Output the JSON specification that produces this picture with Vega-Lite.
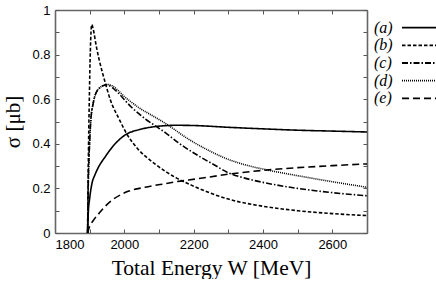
{
  "$schema": "https://vega.github.io/schema/vega-lite/v6.json",
  "padding": {"left": 2, "top": 4, "right": 0, "bottom": 0},
  "background": "white",
  "bounds": "flush",
  "spacing": 7,
  "config": {
    "view": {"stroke": null},
    "axis": {
      "grid": false,
      "domainColor": "#666",
      "domainWidth": 1.6,
      "tickColor": "#555",
      "tickWidth": 1,
      "tickSize": -4,
      "labelFont": "Liberation Sans",
      "labelFontSize": 13,
      "labelColor": "#000",
      "titleFont": "Liberation Serif",
      "titleFontWeight": "normal",
      "titleColor": "#000"
    }
  },
  "datasets": {
    "curves": [
      {"curve": "(a)", "W": 1894, "s": 0},
      {"curve": "(a)", "W": 1896, "s": 0.09},
      {"curve": "(a)", "W": 1900, "s": 0.155},
      {"curve": "(a)", "W": 1907, "s": 0.225},
      {"curve": "(a)", "W": 1915, "s": 0.26},
      {"curve": "(a)", "W": 1927, "s": 0.3},
      {"curve": "(a)", "W": 1944, "s": 0.34},
      {"curve": "(a)", "W": 1965, "s": 0.385},
      {"curve": "(a)", "W": 1985, "s": 0.418},
      {"curve": "(a)", "W": 2007, "s": 0.444},
      {"curve": "(a)", "W": 2042, "s": 0.463},
      {"curve": "(a)", "W": 2088, "s": 0.477},
      {"curve": "(a)", "W": 2150, "s": 0.483},
      {"curve": "(a)", "W": 2200, "s": 0.482},
      {"curve": "(a)", "W": 2300, "s": 0.474},
      {"curve": "(a)", "W": 2400, "s": 0.467},
      {"curve": "(a)", "W": 2500, "s": 0.461},
      {"curve": "(a)", "W": 2600, "s": 0.457},
      {"curve": "(a)", "W": 2700, "s": 0.453},

      {"curve": "(b)", "W": 1894, "s": 0},
      {"curve": "(b)", "W": 1896, "s": 0.3},
      {"curve": "(b)", "W": 1899, "s": 0.6},
      {"curve": "(b)", "W": 1902, "s": 0.82},
      {"curve": "(b)", "W": 1906, "s": 0.935},
      {"curve": "(b)", "W": 1910, "s": 0.915},
      {"curve": "(b)", "W": 1920, "s": 0.83},
      {"curve": "(b)", "W": 1927, "s": 0.78},
      {"curve": "(b)", "W": 1946, "s": 0.668},
      {"curve": "(b)", "W": 1959, "s": 0.6},
      {"curve": "(b)", "W": 1985, "s": 0.511},
      {"curve": "(b)", "W": 2007, "s": 0.444},
      {"curve": "(b)", "W": 2039, "s": 0.377},
      {"curve": "(b)", "W": 2088, "s": 0.31},
      {"curve": "(b)", "W": 2150, "s": 0.247},
      {"curve": "(b)", "W": 2200, "s": 0.21},
      {"curve": "(b)", "W": 2250, "s": 0.178},
      {"curve": "(b)", "W": 2300, "s": 0.152},
      {"curve": "(b)", "W": 2400, "s": 0.12},
      {"curve": "(b)", "W": 2500, "s": 0.1},
      {"curve": "(b)", "W": 2600, "s": 0.087},
      {"curve": "(b)", "W": 2700, "s": 0.078},

      {"curve": "(c)", "W": 1894, "s": 0},
      {"curve": "(c)", "W": 1896, "s": 0.22},
      {"curve": "(c)", "W": 1900, "s": 0.41},
      {"curve": "(c)", "W": 1903, "s": 0.5},
      {"curve": "(c)", "W": 1910, "s": 0.58},
      {"curve": "(c)", "W": 1917, "s": 0.623},
      {"curve": "(c)", "W": 1930, "s": 0.652},
      {"curve": "(c)", "W": 1950, "s": 0.665},
      {"curve": "(c)", "W": 1965, "s": 0.652},
      {"curve": "(c)", "W": 1980, "s": 0.632},
      {"curve": "(c)", "W": 2000, "s": 0.598},
      {"curve": "(c)", "W": 2020, "s": 0.565},
      {"curve": "(c)", "W": 2042, "s": 0.535},
      {"curve": "(c)", "W": 2060, "s": 0.512},
      {"curve": "(c)", "W": 2090, "s": 0.48},
      {"curve": "(c)", "W": 2120, "s": 0.448},
      {"curve": "(c)", "W": 2160, "s": 0.4},
      {"curve": "(c)", "W": 2215, "s": 0.345},
      {"curve": "(c)", "W": 2260, "s": 0.305},
      {"curve": "(c)", "W": 2300, "s": 0.27},
      {"curve": "(c)", "W": 2350, "s": 0.245},
      {"curve": "(c)", "W": 2400, "s": 0.227},
      {"curve": "(c)", "W": 2500, "s": 0.2},
      {"curve": "(c)", "W": 2600, "s": 0.181},
      {"curve": "(c)", "W": 2700, "s": 0.167},

      {"curve": "(d)", "W": 1894, "s": 0},
      {"curve": "(d)", "W": 1896, "s": 0.22},
      {"curve": "(d)", "W": 1900, "s": 0.41},
      {"curve": "(d)", "W": 1903, "s": 0.5},
      {"curve": "(d)", "W": 1910, "s": 0.58},
      {"curve": "(d)", "W": 1917, "s": 0.623},
      {"curve": "(d)", "W": 1930, "s": 0.652},
      {"curve": "(d)", "W": 1950, "s": 0.666},
      {"curve": "(d)", "W": 1965, "s": 0.66},
      {"curve": "(d)", "W": 1980, "s": 0.642},
      {"curve": "(d)", "W": 2000, "s": 0.612},
      {"curve": "(d)", "W": 2020, "s": 0.587},
      {"curve": "(d)", "W": 2042, "s": 0.562},
      {"curve": "(d)", "W": 2088, "s": 0.52},
      {"curve": "(d)", "W": 2120, "s": 0.49},
      {"curve": "(d)", "W": 2186, "s": 0.42},
      {"curve": "(d)", "W": 2250, "s": 0.365},
      {"curve": "(d)", "W": 2292, "s": 0.335},
      {"curve": "(d)", "W": 2350, "s": 0.305},
      {"curve": "(d)", "W": 2408, "s": 0.284},
      {"curve": "(d)", "W": 2500, "s": 0.257},
      {"curve": "(d)", "W": 2600, "s": 0.23},
      {"curve": "(d)", "W": 2700, "s": 0.205},

      {"curve": "(e)", "W": 1894, "s": 0},
      {"curve": "(e)", "W": 1900, "s": 0.03},
      {"curve": "(e)", "W": 1910, "s": 0.055},
      {"curve": "(e)", "W": 1927, "s": 0.088},
      {"curve": "(e)", "W": 1945, "s": 0.12},
      {"curve": "(e)", "W": 1965, "s": 0.148},
      {"curve": "(e)", "W": 1990, "s": 0.172},
      {"curve": "(e)", "W": 2013, "s": 0.188},
      {"curve": "(e)", "W": 2060, "s": 0.205},
      {"curve": "(e)", "W": 2109, "s": 0.219},
      {"curve": "(e)", "W": 2150, "s": 0.23},
      {"curve": "(e)", "W": 2206, "s": 0.242},
      {"curve": "(e)", "W": 2302, "s": 0.264},
      {"curve": "(e)", "W": 2400, "s": 0.281},
      {"curve": "(e)", "W": 2500, "s": 0.293},
      {"curve": "(e)", "W": 2600, "s": 0.302},
      {"curve": "(e)", "W": 2700, "s": 0.31}
    ],
    "keys": [
      {"curve": "(a)"},
      {"curve": "(b)"},
      {"curve": "(c)"},
      {"curve": "(d)"},
      {"curve": "(e)"}
    ]
  },
  "hconcat": [
    {
      "width": 312,
      "height": 223,
      "data": {"name": "curves"},
      "layer": [
        {
          "mark": {"type": "line", "interpolate": "monotone", "color": "#000", "strokeWidth": 1.6, "clip": true},
          "encoding": {
            "x": {
              "field": "W", "type": "quantitative",
              "scale": {"domain": [1800, 2700], "nice": false, "zero": false},
              "axis": {
                "orient": "bottom",
                "values": [1800, 1900, 2000, 2100, 2200, 2300, 2400, 2500, 2600, 2700],
                "labelExpr": "datum.value % 200 == 0 && datum.value < 2700 ? datum.label : ''",
                "format": "d",
                "labelPadding": 9,
                "title": "Total Energy W [MeV]",
                "titleFontSize": 21.5,
                "titlePadding": 6
              }
            },
            "y": {
              "field": "s", "type": "quantitative",
              "scale": {"domain": [0, 1], "nice": false},
              "axis": {
                "orient": "left",
                "values": [0, 0.1, 0.2, 0.3, 0.4, 0.5, 0.6, 0.7, 0.8, 0.9, 1],
                "format": "~g",
                "labelExpr": "round(datum.value * 10) % 2 == 0 ? datum.label : ''",
                "labelPadding": 9,
                "title": "σ [μb]",
                "titleFontSize": 21,
                "titlePadding": 8
              }
            },
            "strokeDash": {
              "field": "curve", "type": "nominal",
              "scale": {
                "domain": ["(a)", "(b)", "(c)", "(d)", "(e)"],
                "range": [[1, 0], [3.5, 2], [6, 2, 1.5, 2], [1, 1], [7, 4]]
              },
              "legend": null
            }
          }
        },
        {
          "mark": {"type": "line", "strokeOpacity": 0},
          "encoding": {
            "x": {
              "field": "W", "type": "quantitative",
              "axis": {
                "orient": "top",
                "values": [1800, 1900, 2000, 2100, 2200, 2300, 2400, 2500, 2600, 2700],
                "labels": false,
                "title": null
              }
            },
            "y": {
              "field": "s", "type": "quantitative",
              "axis": {
                "orient": "right",
                "values": [0, 0.1, 0.2, 0.3, 0.4, 0.5, 0.6, 0.7, 0.8, 0.9, 1],
                "labels": false,
                "title": null
              }
            },
            "detail": {"field": "curve", "type": "nominal"}
          }
        }
      ],
      "resolve": {"axis": {"x": "independent", "y": "independent"}}
    },
    {
      "width": 61,
      "height": 106,
      "data": {"name": "keys"},
      "encoding": {
        "y": {
          "field": "curve", "type": "nominal",
          "scale": {"type": "point", "domain": ["(a)", "(b)", "(c)", "(d)", "(e)"], "padding": 1.12},
          "axis": null
        }
      },
      "layer": [
        {
          "mark": {"type": "text", "align": "left", "baseline": "middle", "font": "Liberation Serif", "fontSize": 16, "fontStyle": "italic", "color": "#000"},
          "encoding": {
            "x": {"datum": 0, "type": "quantitative", "scale": {"domain": [0, 61], "nice": false, "zero": true}, "axis": null},
            "text": {"field": "curve", "type": "nominal"}
          }
        },
        {
          "mark": {"type": "rule", "color": "#000", "strokeWidth": 1.8},
          "encoding": {
            "x": {"datum": 28, "type": "quantitative", "scale": {"domain": [0, 61], "nice": false, "zero": true}, "axis": null},
            "x2": {"datum": 63},
            "strokeDash": {
              "field": "curve", "type": "nominal",
              "scale": {
                "domain": ["(a)", "(b)", "(c)", "(d)", "(e)"],
                "range": [[1, 0], [3.5, 2], [6, 2, 1.5, 2], [1, 1], [7, 4]]
              },
              "legend": null
            }
          }
        }
      ]
    }
  ]
}
